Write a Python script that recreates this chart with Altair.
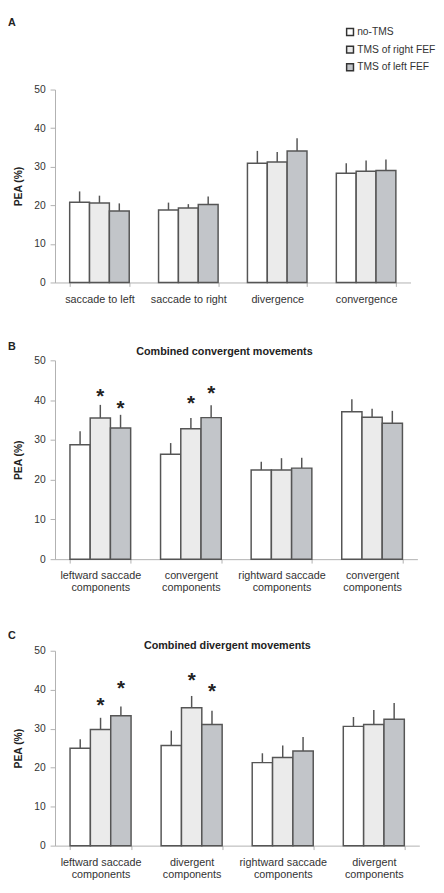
import json
import altair as alt
import pandas as pd

FONT = "Liberation Sans"

conditions = ["no-TMS", "TMS of right FEF", "TMS of left FEF"]
fill_colors = ["#ffffff", "#ebebeb", "#c2c5c9"]
y_ticks = [0, 10, 20, 30, 40, 50]

# ---- Panel A ----
labels_a = ["saccade to left", "saccade to right", "divergence", "convergence"]
a_no = [20.8, 18.8, 30.9, 28.3]
a_no_err = [2.8, 1.9, 3.2, 2.6]
a_right = [20.6, 19.3, 31.2, 28.8]
a_right_err = [1.9, 1.0, 2.6, 2.8]
a_left = [18.5, 20.2, 34.1, 29.0]
a_left_err = [2.0, 2.1, 3.3, 2.9]

# ---- Panel B ----
title_b = "Combined convergent movements"
labels_b = [["leftward saccade", "components"], ["convergent", "components"],
            ["rightward saccade", "components"], ["convergent", "components"]]
b_no = [28.8, 26.4, 22.4, 37.1]
b_no_err = [3.4, 2.8, 2.1, 3.1]
b_right = [35.5, 32.8, 22.4, 35.7]
b_right_err = [3.3, 2.7, 3.0, 2.1]
b_left = [33.0, 35.6, 22.9, 34.2]
b_left_err = [3.3, 3.1, 2.6, 3.1]
stars_b_cat = [0, 0, 1, 1]
stars_b_cond = ["TMS of right FEF", "TMS of left FEF", "TMS of right FEF", "TMS of left FEF"]
stars_b_y = [42.3, 39.2, 40.5, 43.1]

# ---- Panel C ----
title_c = "Combined divergent movements"
labels_c = [["leftward saccade", "components"], ["divergent", "components"],
            ["rightward saccade", "components"], ["divergent", "components"]]
c_no = [25.0, 25.7, 21.3, 30.6]
c_no_err = [2.3, 3.8, 2.4, 2.4]
c_right = [29.8, 35.4, 22.6, 31.1]
c_right_err = [3.0, 3.0, 3.1, 3.7]
c_left = [33.3, 31.1, 24.3, 32.4]
c_left_err = [2.4, 3.5, 3.6, 4.2]
stars_c_cat = [0, 0, 1, 1]
stars_c_cond = ["TMS of right FEF", "TMS of left FEF", "TMS of right FEF", "TMS of left FEF"]
stars_c_y = [37.2, 41.6, 43.8, 40.8]


def make_df(means_list, errs_list):
    rows = []
    for cond, means, errs in zip(conditions, means_list, errs_list):
        for i, (m, e) in enumerate(zip(means, errs)):
            rows.append({"cat": i, "cond": cond, "mean": m, "top": round(m + e, 2)})
    return pd.DataFrame(rows)


def panel(df, labels, letter, letter_y, width, height, title=None, title_x=0, title_y=0,
          stars=None, legend=False):
    x = alt.X("cat:O", scale=alt.Scale(paddingInner=0.33, paddingOuter=0.165),
              axis=alt.Axis(title=None, labelExpr=json.dumps(labels) + "[datum.value]",
                            labelAngle=0, tickBand="extent", domainColor="#b0b0b0",
                            tickColor="#b0b0b0", tickSize=4, labelFont=FONT,
                            labelFontSize=11, labelColor="#333", labelPadding=7,
                            labelLineHeight=12.5))
    xo = alt.XOffset("cond:N", sort=conditions,
                     scale=alt.Scale(domain=conditions, paddingInner=0, paddingOuter=0))
    y = alt.Y("mean:Q", scale=alt.Scale(domain=[0, 50], nice=False),
              axis=alt.Axis(values=y_ticks, title="PEA (%)", grid=False,
                            domainColor="#b0b0b0", tickColor="#b0b0b0", tickSize=5,
                            labelFont=FONT, labelFontSize=10.5, labelColor="#333",
                            labelPadding=5, titleFont=FONT, titleFontSize=10.5,
                            titleFontWeight="bold", titleColor="#222", titlePadding=11))
    if legend:
        leg = alt.Legend(title=None, orient="none", legendX=296, legendY=-64, offset=0,
                         symbolType="square", symbolSize=49, symbolStrokeColor="#333",
                         symbolStrokeWidth=1.5, labelFont=FONT, labelFontSize=10.5,
                         labelColor="#333", rowPadding=4, labelOffset=2, padding=0)
    else:
        leg = None
    color = alt.Color("cond:N", sort=conditions,
                      scale=alt.Scale(domain=conditions, range=fill_colors), legend=leg)

    base = alt.Chart(df)
    err = base.mark_rule(color="#555", strokeWidth=1.5).encode(
        x=x, xOffset=xo, y=y, y2="top:Q")
    bars = base.mark_bar(stroke="#555", strokeWidth=1.5).encode(
        x=x, xOffset=xo, y=y, color=color)
    letter_df = pd.DataFrame({"t": [letter]})
    let = alt.Chart(letter_df).mark_text(
        align="left", baseline="top", font=FONT, fontSize=11, fontWeight="bold",
        color="#222").encode(text="t:N", x=alt.value(-48), y=alt.value(letter_y))
    layers = [err, bars, let]
    if title:
        tdf = pd.DataFrame({"t": [title]})
        tt = alt.Chart(tdf).mark_text(
            align="center", baseline="alphabetic", font=FONT, fontSize=11,
            fontWeight="bold", color="#222").encode(
            text="t:N", x=alt.value(title_x), y=alt.value(title_y))
        layers.append(tt)
    if stars is not None:
        sdf = pd.DataFrame({"cat": stars[0], "cond": stars[1], "mean": stars[2]})
        st = alt.Chart(sdf).mark_text(
            text="*", font=FONT, fontSize=21, fontWeight="bold", color="#222",
            baseline="alphabetic", dy=12).encode(x=x, xOffset=xo, y=y)
        layers.append(st)
    return alt.layer(*layers).properties(width=width, height=height)


pa = panel(make_df([a_no, a_right, a_left], [a_no_err, a_right_err, a_left_err]),
           labels_a, "A", -74, 363, 197, legend=True)
pb = panel(make_df([b_no, b_right, b_left], [b_no_err, b_right_err, b_left_err]),
           labels_b, "B", -19.5, 370, 203, title=title_b, title_x=173, title_y=-5,
           stars=(stars_b_cat, stars_b_cond, stars_b_y))
pc = panel(make_df([c_no, c_right, c_left], [c_no_err, c_right_err, c_left_err]),
           labels_c, "C", -21, 372, 199, title=title_c, title_x=176, title_y=-1.5,
           stars=(stars_c_cat, stars_c_cond, stars_c_y))

chart = alt.vconcat(pa, pb, pc, spacing=37.5).resolve_scale(
    color="independent", x="independent", y="independent", xOffset="independent"
).resolve_legend(color="independent").properties(
    padding={"left": 0, "top": 0, "right": 0, "bottom": 0}
).configure_view(stroke=None)

chart.save("out.html", embed_options={"renderer": "svg", "actions": False})
